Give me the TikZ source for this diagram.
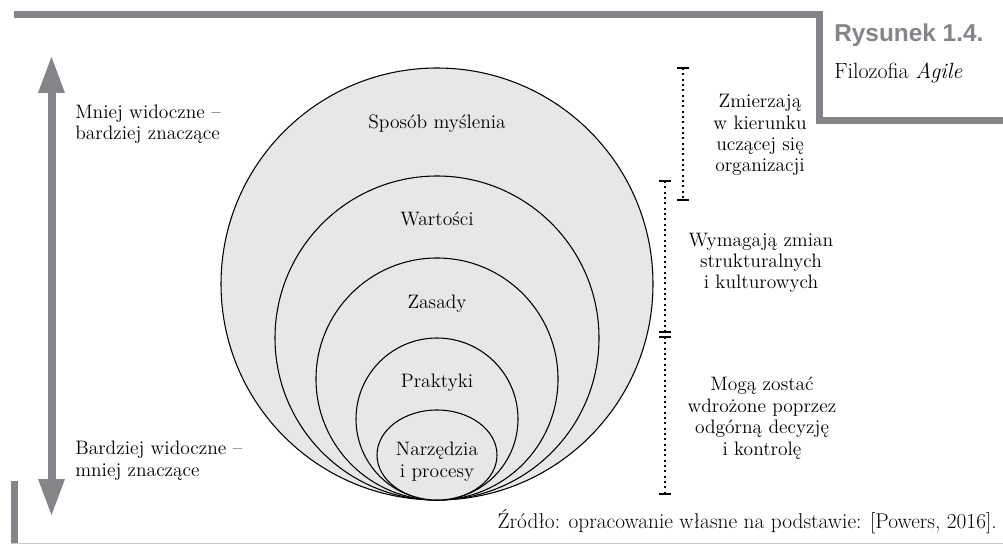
\documentclass[tikz,border=0pt]{standalone}
\usepackage{fontspec}
\newfontfamily\labelsans{Liberation Sans}
\usetikzlibrary{shapes.geometric}
\definecolor{framegray}{RGB}{132,133,136}
\definecolor{ringfill}{RGB}{230,231,232}
\definecolor{rulegray}{RGB}{200,200,200}
\begin{document}
\begin{tikzpicture}[x=0.75pt,y=-0.75pt,
  ring/.style={circle, draw=black, line width=0.8pt, fill=ringfill, inner sep=0pt},
  oval/.style={ellipse, draw=black, line width=0.8pt, fill=ringfill, inner sep=0pt},
  lbl/.style={font=\fontsize{14.6}{16.1}\selectfont, inner sep=0pt, align=center},
  tick/.style={line width=1.6pt},
  dotline/.style={line width=1.5pt, dash pattern=on 1.5pt off 2.5pt}]
\useasboundingbox (0,0) rectangle (1003,545);
\fill[white] (0,0) rectangle (1003,545);
% frame
\fill[framegray] (14,11) rectangle (823,18);
\fill[framegray] (816,11) rectangle (823,124);
\fill[framegray] (816,117) rectangle (1003,124);
\fill[framegray] (11,481) rectangle (18,544);
\draw[rulegray, line width=1.2pt] (11,543.5) -- (1003,543.5);
% double arrow
\fill[framegray] (47.5,92) rectangle (55.5,480);
\fill[framegray] (38,93) -- (51.5,57) -- (65,93) -- cycle;
\fill[framegray] (38,479) -- (51.5,515) -- (65,479) -- cycle;
% rings
\node[ring, minimum size=324pt] (c1) at (437,284) {};
\node[ring, minimum size=243pt] (c2) at (437,338) {};
\node[ring, minimum size=181.5pt] (c3) at (437,379) {};
\node[ring, minimum size=121.5pt] (c4) at (437,419) {};
\node[oval, minimum width=90pt, minimum height=67.5pt] (c5) at (437,455) {};
% ring labels (multi-line nodes are placed by the baseline of their last line)
\node[lbl, anchor=base] (l1) at (437,129) {Sposób myślenia};
\node[lbl, anchor=base] (l2) at (437,226) {Wartości};
\node[lbl, anchor=base] (l3) at (437,309) {Zasady};
\node[lbl, anchor=base] (l4) at (437,387) {Praktyki};
\node[lbl, anchor=base] (l5) at (437,477) {Narzędzia\\i procesy};
% left labels
\node[lbl, anchor=base west, align=left] (top) at (75,140) {Mniej widoczne –\\bardziej znaczące};
\node[lbl, anchor=base west, align=left] (bot) at (75,476) {Bardziej widoczne –\\mniej znaczące};
% brackets
\coordinate (b1t) at (683,68);
\coordinate (b1b) at (683,200);
\coordinate (b2t) at (665,181);
\coordinate (b2b) at (665,332);
\coordinate (b3t) at (665,337);
\coordinate (b3b) at (665,494);
\draw[dotline] (b1t) -- (b1b);
\draw[dotline] (b2t) -- (b2b);
\draw[dotline] (b3t) -- (b3b);
\draw[tick] ([xshift=-4.5pt]b1t) -- ([xshift=4.5pt]b1t);
\draw[tick] ([xshift=-4.5pt]b1b) -- ([xshift=4.5pt]b1b);
\draw[tick] ([xshift=-4.5pt]b2t) -- ([xshift=4.5pt]b2t);
\draw[tick] ([xshift=-4.5pt]b2b) -- ([xshift=4.5pt]b2b);
\draw[tick] ([xshift=-4.5pt]b3t) -- ([xshift=4.5pt]b3t);
\draw[tick] ([xshift=-4.5pt]b3b) -- ([xshift=4.5pt]b3b);
% right labels
\node[lbl, anchor=base] (r1) at (760,172) {Zmierzają\\w kierunku\\uczącej się\\organizacji};
\node[lbl, anchor=base] (r2) at (761,289) {Wymagają zmian\\strukturalnych\\i kulturowych};
\node[lbl, anchor=base] (r3) at (762,455) {Mogą zostać\\wdrożone poprzez\\odgórną decyzję\\i kontrolę};
% caption
\node[anchor=base west, inner sep=0pt, text=framegray, font=\labelsans\bfseries\fontsize{18.3}{21}\selectfont] (fig) at (834,42) {Rysunek 1.4.};
\node[anchor=base west, inner sep=0pt, font=\fontsize{16.5}{19}\selectfont] (title) at (834,79) {Filozofia \textit{Agile}};
\node[anchor=base east, inner sep=0pt, font=\fontsize{16}{19}\selectfont] (src) at (997,528) {Źródło: opracowanie własne na podstawie: [Powers, 2016].};
\end{tikzpicture}
\end{document}
